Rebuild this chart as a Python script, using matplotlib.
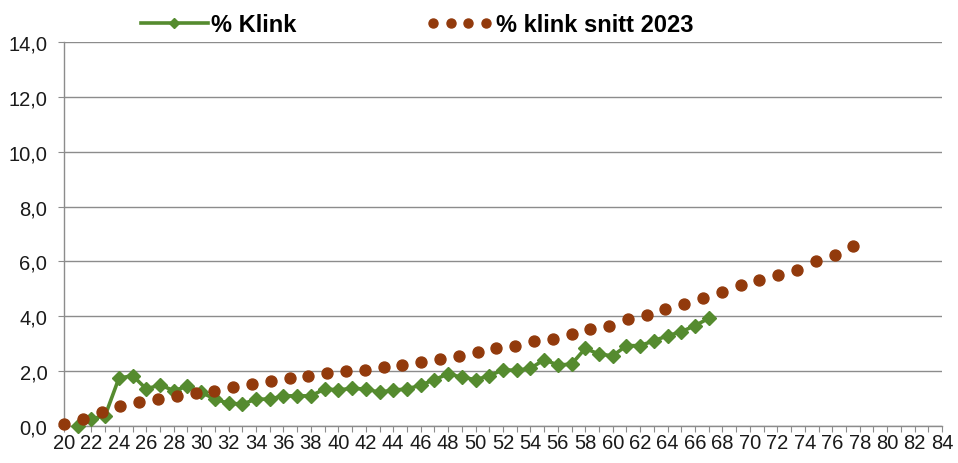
import matplotlib.pyplot as plt
from matplotlib.lines import Line2D
from matplotlib.legend_handler import HandlerLine2D
from matplotlib.ticker import MultipleLocator, FuncFormatter

# alder (kategorier) og verdier lest av figuren
ages = list(range(21, 68))
pct_klink = [
    0.00, 0.26, 0.38, 1.74, 1.84, 1.35, 1.50, 1.29, 1.45, 1.23,
    0.98, 0.83, 0.80, 0.98, 0.98, 1.10, 1.10, 1.10, 1.35, 1.32,
    1.37, 1.35, 1.23, 1.31, 1.35, 1.49, 1.69, 1.90, 1.78, 1.69,
    1.83, 2.05, 2.03, 2.10, 2.42, 2.22, 2.26, 2.83, 2.62, 2.56,
    2.93, 2.93, 3.11, 3.29, 3.44, 3.66, 3.93,
]
# snitt 2023 ligger paa en egen (skjult) kategoriakse
pct_snitt_2023 = [
    0.07, 0.26, 0.50, 0.74, 0.89, 0.98, 1.10, 1.20, 1.29, 1.41,
    1.53, 1.63, 1.74, 1.84, 1.93, 1.99, 2.05, 2.14, 2.22, 2.32,
    2.44, 2.54, 2.69, 2.83, 2.93, 3.09, 3.17, 3.35, 3.55, 3.66,
    3.91, 4.05, 4.25, 4.45, 4.66, 4.90, 5.14, 5.34, 5.52, 5.70,
    6.00, 6.23, 6.55,
]
labels = ['% Klink', '% klink snitt 2023']

GREEN = '#558B2F'
BROWN = '#923A0C'
GRID = '#8C8C8C'
TEXT = '#1A1A1A'

plt.rcParams['font.family'] = ['Liberation Sans', 'DejaVu Sans']

fig = plt.figure(figsize=(9.58, 4.64), dpi=100)
ax = fig.add_axes([0.0668, 0.0797, 0.9165, 0.8276])

ax.plot(ages, pct_klink, color=GREEN, lw=2.6, marker='D', ms=7.4,
        mec=GREEN, mfc=GREEN, clip_on=False, zorder=3)

ax.set_xlim(20, 84)
ax.set_ylim(0, 14)
ax.xaxis.set_major_locator(MultipleLocator(2))
ax.xaxis.set_minor_locator(MultipleLocator(1))
ax.yaxis.set_major_locator(MultipleLocator(2))
ax.yaxis.set_major_formatter(FuncFormatter(lambda v, p: f'{v:.1f}'.replace('.', ',')))

ax.grid(axis='y', color=GRID, lw=1.0)
ax.set_axisbelow(True)
for side in ['top', 'right']:
    ax.spines[side].set_visible(False)
for side in ['left', 'bottom']:
    ax.spines[side].set_color(GRID)
    ax.spines[side].set_linewidth(1.0)

ax.tick_params(axis='x', which='both', length=4, width=0.8, color=GRID,
               labelsize=14.5, labelcolor=TEXT, pad=1.0)
ax.tick_params(axis='y', length=4, width=0.8, color=GRID,
               labelsize=14.5, labelcolor=TEXT, pad=8)

# sekundaer x-akse for snittlinja
ax2 = ax.twiny()
ax2.set_xlim(0, 46.71)
ax2.plot(range(len(pct_snitt_2023)), pct_snitt_2023, ls='none', marker='o',
         ms=7.9, color=BROWN, clip_on=False, zorder=4)
ax2.axis('off')

# forklaring
h1 = Line2D([], [], color=GREEN, lw=2.6, marker='D', ms=4.8)
h2 = Line2D([], [], ls='none', marker='o', ms=6.5, color=BROWN)
fig.legend([h1, h2], labels, loc='upper left', bbox_to_anchor=(0.132, 1.0),
           ncol=2, frameon=False, borderpad=0.1, handlelength=2.85,
           handletextpad=0.12, columnspacing=5.5,
           handler_map={h2: HandlerLine2D(numpoints=4)},
           prop={'size': 17, 'weight': 'bold'})

plt.savefig('out.png', dpi=100)
